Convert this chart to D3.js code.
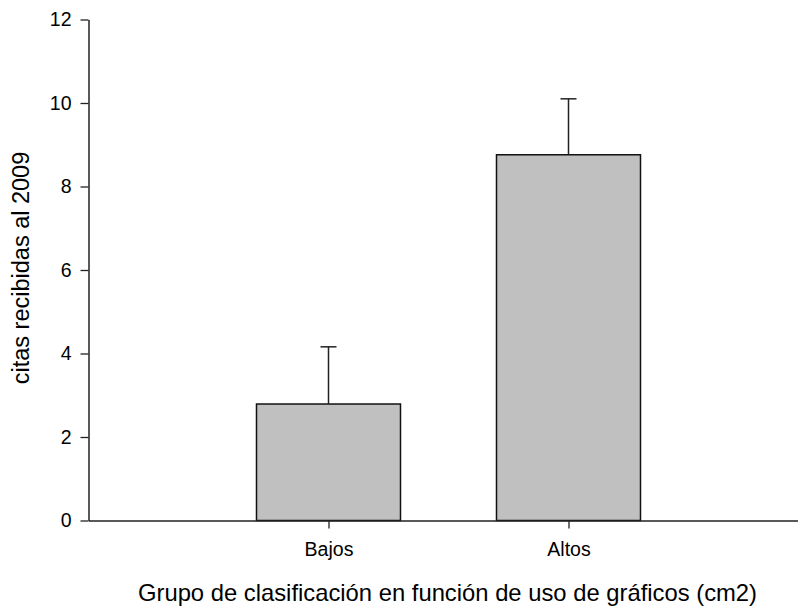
<!DOCTYPE html>
<html>
<head>
<meta charset="utf-8">
<script src="https://cdn.jsdelivr.net/npm/d3@7"></script>
<style>
  body { margin: 0; background: #fff; }
  svg text { font-family: "Liberation Sans", Arial, sans-serif; fill: #000; }
</style>
</head>
<body>
<div id="chart"></div>
<script>
// categories and values
var categories = ["Bajos", "Altos"];
var means = [2.79, 8.76];
var errors = [1.37, 1.34];
var yTicks = [0, 2, 4, 6, 8, 10, 12];

var width = 798, height = 607;
var x0 = 88.5, yBottom = 520.5, yTop = 19.5;

var svg = d3.select("#chart")
    .append("svg")
    .attr("width", width)
    .attr("height", height);

// categories sit at 1 and 2 on a 0..3 axis
var x = d3.scaleLinear()
    .domain([0, 3])
    .range([x0, x0 + 720]);

var y = d3.scaleLinear()
    .domain([0, 12])
    .range([yBottom, yTop]);

var barWidth = (x(1) - x(0)) * 0.6;

//Bars
svg.selectAll("rect.bar")
    .data(means)
    .enter()
    .append("rect")
    .attr("class", "bar")
    .attr("x", function (d, i) { return x(i + 1) - barWidth / 2; })
    .attr("y", function (d) { return y(d); })
    .attr("width", barWidth)
    .attr("height", function (d) { return y(0) - y(d); })
    .attr("fill", "#c0c0c0")
    .attr("stroke", "#111")
    .attr("stroke-width", 1.5);

//Error bars, upper half only
svg.selectAll("line.err")
    .data(means)
    .enter()
    .append("line")
    .attr("class", "err")
    .attr("x1", function (d, i) { return x(i + 1); })
    .attr("x2", function (d, i) { return x(i + 1); })
    .attr("y1", function (d) { return y(d); })
    .attr("y2", function (d, i) { return y(d + errors[i]); })
    .attr("stroke", "#222")
    .attr("stroke-width", 1.5);

svg.selectAll("line.cap")
    .data(means)
    .enter()
    .append("line")
    .attr("class", "cap")
    .attr("x1", function (d, i) { return x(i + 1) - 8; })
    .attr("x2", function (d, i) { return x(i + 1) + 8; })
    .attr("y1", function (d, i) { return y(d + errors[i]); })
    .attr("y2", function (d, i) { return y(d + errors[i]); })
    .attr("stroke", "#222")
    .attr("stroke-width", 1.5);

//Axes
var yAxis = d3.axisLeft(y)
    .tickValues(yTicks)
    .tickSize(8)
    .tickPadding(9)
    .tickSizeOuter(0);

var gy = svg.append("g")
    .attr("transform", "translate(" + x0 + ",0)")
    .call(yAxis);

var xAxis = d3.axisBottom(x)
    .tickValues([1, 2])
    .tickFormat(function (d) { return categories[d - 1]; })
    .tickSize(8)
    .tickPadding(13.5)
    .tickSizeOuter(0);

var gx = svg.append("g")
    .attr("transform", "translate(0," + yBottom + ")")
    .call(xAxis);

[gy, gx].forEach(function (g) {
    g.select(".domain").attr("stroke", "#222").attr("stroke-width", 1.5);
    g.selectAll(".tick line").attr("stroke", "#222").attr("stroke-width", 1.3);
    g.selectAll(".tick text")
        .attr("font-size", "19.5px")
        .attr("font-family", "Liberation Sans, Arial, sans-serif")
        .attr("fill", "#000");
});

//Axis titles
svg.append("text")
    .attr("x", 447.5)
    .attr("y", 601)
    .attr("text-anchor", "middle")
    .attr("font-size", "23.8px")
    .text("Grupo de clasificación en función de uso de gráficos (cm2)");

svg.append("text")
    .attr("transform", "translate(29,268) rotate(-90)")
    .attr("text-anchor", "middle")
    .attr("font-size", "23.5px")
    .text("citas recibidas al 2009");
</script>
</body>
</html>
